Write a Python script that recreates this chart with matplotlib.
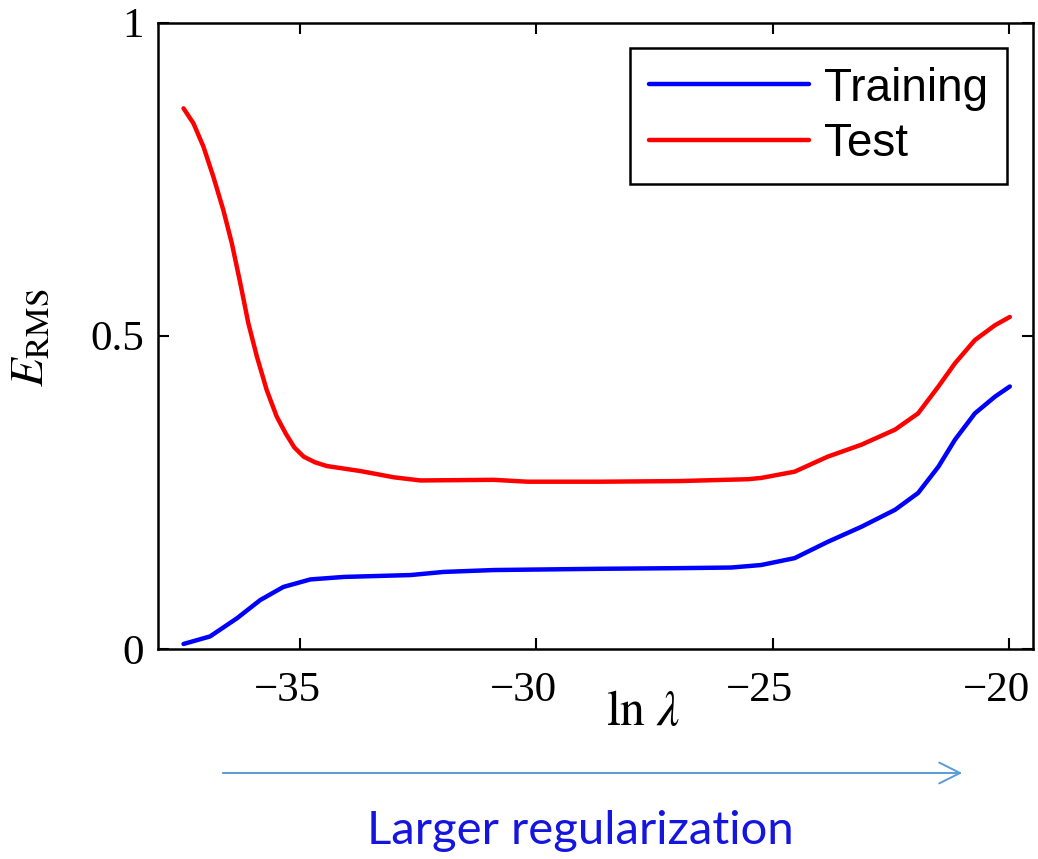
import numpy as np
import matplotlib.pyplot as plt
import matplotlib.transforms as mtransforms
from matplotlib.patches import FancyArrowPatch

plt.rcParams['font.family'] = 'serif'
plt.rcParams['font.serif'] = ['Liberation Serif', 'DejaVu Serif']
plt.rcParams['mathtext.fontset'] = 'stix'

# Values (ln lambda vs E_RMS)
train_x = [-37.46, -36.90, -36.33, -35.84, -35.35, -34.78, -34.07, -32.66, -31.96,
           -30.90, -28.64, -27.0, -25.88, -25.25, -24.54, -23.84, -23.13, -22.42,
           -21.93, -21.50, -21.15, -20.73, -20.30, -19.99]
train_y = [0.008, 0.020, 0.049, 0.078, 0.099, 0.111, 0.115, 0.118, 0.123,
           0.126, 0.128, 0.129, 0.130, 0.134, 0.145, 0.171, 0.195, 0.222,
           0.249, 0.291, 0.334, 0.376, 0.403, 0.419]

test_x = [-37.46, -37.25, -37.04, -36.83, -36.62, -36.44, -36.26, -36.09, -35.91,
          -35.70, -35.49, -35.30, -35.12, -34.92, -34.68, -34.43, -33.72, -33.01,
          -32.45, -30.90, -30.19, -28.64, -27.0, -25.52, -25.25, -24.54, -23.84,
          -23.13, -22.42, -21.93, -21.50, -21.15, -20.73, -20.30, -19.99]
test_y = [0.863, 0.839, 0.802, 0.754, 0.701, 0.648, 0.584, 0.520, 0.467,
          0.413, 0.371, 0.344, 0.322, 0.307, 0.298, 0.292, 0.284, 0.274,
          0.269, 0.270, 0.267, 0.267, 0.268, 0.271, 0.273, 0.283, 0.307,
          0.326, 0.350, 0.376, 0.419, 0.456, 0.493, 0.517, 0.530]

fig = plt.figure(figsize=(10.38, 8.59), dpi=100)
ax = fig.add_axes([0.1522, 0.2445, 0.843, 0.7293])

ax.plot(train_x, train_y, color='#0000ff', lw=3.2, label='Training',
        solid_capstyle='round', solid_joinstyle='round')
ax.plot(test_x, test_y, color='#ff0000', lw=3.2, label='Test',
        solid_capstyle='round', solid_joinstyle='round')

ax.set_xlim(-38, -19.5)
ax.set_ylim(0, 1)
ax.set_xticks([-35, -30, -25, -20])
ax.set_yticks([0, 0.5, 1])
ax.set_yticklabels(['0', '0.5', '1'])
ax.tick_params(direction='in', top=True, right=True, length=8, width=1.5,
               labelsize=31, pad=10)
ax.tick_params(axis='x', pad=16)
for s in ax.spines.values():
    s.set_linewidth(1.8)

# x tick labels sit a little left of their ticks, as in the original
shift = mtransforms.ScaledTranslation(-13 / 100, 0, fig.dpi_scale_trans)
for lbl in ax.get_xticklabels():
    lbl.set_transform(lbl.get_transform() + shift)

ax.set_xlabel(r'$\ln\,\lambda$', fontsize=36)
ax.xaxis.set_label_coords(0.555, -0.065)
ax.set_ylabel(r'$E_{\mathrm{RMS}}$', fontsize=34)
ax.yaxis.set_label_coords(-0.12, 0.497)

leg = ax.legend(loc='upper right', bbox_to_anchor=(0.97, 0.959), borderaxespad=0,
                prop={'family': 'Liberation Sans', 'size': 33}, fancybox=False,
                edgecolor='black', framealpha=1, handlelength=3.5,
                handletextpad=0.33, labelspacing=0.25, borderpad=0.4)
leg.get_frame().set_linewidth(1.8)

# arrow and caption below the axes
arrow = FancyArrowPatch((220 / 1038, 1 - 773 / 859), (965 / 1038, 1 - 773 / 859),
                        transform=fig.transFigure, arrowstyle='->,head_length=10,head_width=5',
                        color='#5b9bd5', lw=1.4, mutation_scale=1.5)
fig.patches.append(arrow)
fig.text(580 / 1038, 1 - 831 / 859, 'Larger regularization', color='#1515e0',
         family='Lato', fontsize=34, ha='center', va='center')

fig.savefig('out.png', dpi=100)
